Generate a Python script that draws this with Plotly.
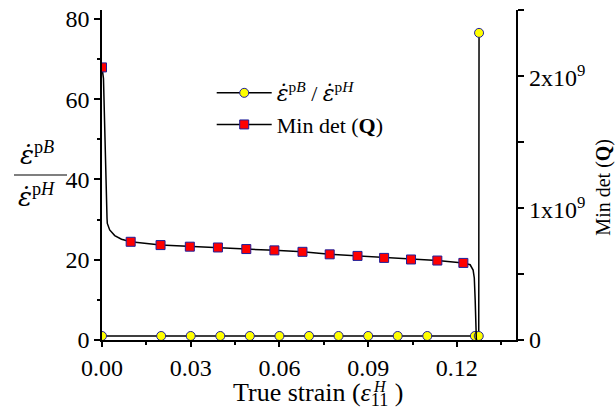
import plotly.graph_objects as go

FONT = "Liberation Serif, Times New Roman, serif"

# ---- data ----
# strain-rate ratio (left axis)
ratio_strain = [0.0, 0.02, 0.03, 0.04, 0.05, 0.06, 0.07, 0.08, 0.09, 0.10, 0.11, 0.1261, 0.1274, 0.1275]
ratio_value = [1.0, 1.0, 1.0, 1.0, 1.0, 1.0, 1.0, 1.0, 1.0, 1.0, 1.0, 1.0, 1.0, 76.5]

# Min det(Q) curve (right axis)
detq_curve_strain = [0.0, 0.0005, 0.0017, 0.0018, 0.0026, 0.0043, 0.0066, 0.0097, 0.0198, 0.0297,
                     0.0392, 0.0488, 0.0583, 0.0678, 0.0770, 0.0864, 0.0954, 0.1045, 0.1134,
                     0.1222, 0.1245, 0.1255, 0.1259, 0.1262, 0.1265, 0.1266]
detq_curve_value = [2.065e9, 1.98e9, 0.92e9, 0.883e9, 0.834e9, 0.791e9, 0.763e9, 0.744e9, 0.719e9,
                    0.707e9, 0.701e9, 0.689e9, 0.679e9, 0.668e9, 0.649e9, 0.637e9, 0.622e9,
                    0.610e9, 0.602e9, 0.584e9, 0.570e9, 0.530e9, 0.470e9, 0.300e9, 0.030e9, 0.0]
# Min det(Q) markers
detq_mark_strain = [0.0, 0.0097, 0.0198, 0.0297, 0.0392, 0.0488, 0.0583, 0.0678, 0.0770, 0.0864,
                    0.0954, 0.1045, 0.1134, 0.1222]
detq_mark_value = [2.065e9, 0.744e9, 0.719e9, 0.707e9, 0.701e9, 0.689e9, 0.679e9, 0.668e9,
                   0.649e9, 0.637e9, 0.622e9, 0.610e9, 0.602e9, 0.584e9]

left_ticks = [0, 20, 40, 60, 80]
right_ticks = [0, 1e9, 2e9]
right_ticktext = ["0", "1x10<sup>9</sup>", "2x10<sup>9</sup>"]

EDGE = "#1f1f9a"
EPSDOT = "<span style='font-family:DejaVu Serif'><i>ε̇</i></span>"
ratio_name = EPSDOT + "<sup>p<i>B</i></sup> / " + EPSDOT + "<sup>p<i>H</i></sup>"
detq_name = "Min det (<b>Q</b>)"

fig = go.Figure()

fig.add_trace(go.Scatter(
    x=detq_curve_strain, y=detq_curve_value, yaxis="y2", mode="lines",
    line=dict(color="black", width=1.5), showlegend=False, hoverinfo="skip"))
fig.add_trace(go.Scatter(
    x=detq_mark_strain, y=detq_mark_value, yaxis="y2", mode="markers",
    marker=dict(symbol="square", size=9, color="#ff0000", line=dict(color=EDGE, width=1)),
    showlegend=False))
fig.add_trace(go.Scatter(
    x=ratio_strain, y=ratio_value, mode="lines+markers", name=ratio_name,
    line=dict(color="black", width=1.5),
    marker=dict(symbol="circle", size=9, color="#ffff00", line=dict(color=EDGE, width=1)),
    legendgroup="a"))
fig.add_trace(go.Scatter(
    x=[None], y=[None], yaxis="y2", mode="lines+markers", name=detq_name,
    line=dict(color="black", width=1.5),
    marker=dict(symbol="square", size=9, color="#ff0000", line=dict(color=EDGE, width=1)),
    legendgroup="b"))

axis_common = dict(showline=True, linecolor="black", linewidth=1.5, ticks="outside",
                   tickcolor="black", tickwidth=1.5, showgrid=False, zeroline=False,
                   tickfont=dict(family=FONT, size=24, color="black"))

fig.update_layout(
    width=615, height=416,
    margin=dict(l=102, r=99, t=6, b=76),
    paper_bgcolor="white", plot_bgcolor="white",
    font=dict(family=FONT, color="black"),
    xaxis=dict(range=[0, 0.14], dtick=0.03, tick0=0, tickformat=".2f", ticklen=5,
               minor=dict(dtick=0.015, tick0=0, ticklen=3, ticks="outside", tickcolor="black", tickwidth=1.5),
               **axis_common),
    xaxis3=dict(range=[0, 0.14], overlaying="x", side="top", anchor="y", showline=True,
                linecolor="black", linewidth=1.5, ticks="inside", ticklen=4, tickcolor="black",
                tickwidth=1.5, dtick=0.03, tick0=0, showticklabels=False, showgrid=False,
                zeroline=False,
                minor=dict(dtick=0.015, tick0=0, ticklen=3, ticks="inside", tickcolor="black", tickwidth=1.5)),
    yaxis=dict(range=[0, 82.2], tickvals=left_ticks, ticklen=6,
               minor=dict(dtick=10, tick0=0, ticklen=3, ticks="outside", tickcolor="black", tickwidth=1.5),
               **axis_common),
    yaxis2=dict(range=[0, 2.5e9], overlaying="y", side="right", anchor="x",
                tickvals=right_ticks, ticklen=6, showticklabels=False,
                minor=dict(tickmode="linear", dtick=5e8, tick0=0, ticklen=6, ticks="outside",
                           tickcolor="black", tickwidth=1.5),
                **axis_common),
    legend=dict(x=0.265, y=0.812, xanchor="left", yanchor="top", bgcolor="rgba(0,0,0,0)",
                font=dict(family=FONT, size=22, color="black"), tracegroupgap=0, itemwidth=55),
    showlegend=True,
)

# right axis tick labels
for val, txt in zip(right_ticks, right_ticktext):
    fig.add_annotation(xref="paper", yref="y2", x=1.0266, y=val, text=txt, showarrow=False,
                       font=dict(family=FONT, size=24, color="black"),
                       xanchor="left", yanchor="middle")

# right axis title
fig.add_annotation(xref="paper", yref="paper", x=1.212, y=0.464, text="Min det (<b>Q</b>)",
                   textangle=-90, showarrow=False, font=dict(family=FONT, size=20, color="black"),
                   xanchor="center", yanchor="middle")

# left axis title drawn as a stacked fraction
fig.add_annotation(xref="paper", yref="paper", x=-0.158, y=0.566,
                   text=EPSDOT + "<sup>p<i>B</i></sup>",
                   showarrow=False, font=dict(family=FONT, size=26, color="black"),
                   xanchor="center", yanchor="middle")
fig.add_annotation(xref="paper", yref="paper", x=-0.158, y=0.438,
                   text=EPSDOT + "<sup>p<i>H</i></sup>",
                   showarrow=False, font=dict(family=FONT, size=26, color="black"),
                   xanchor="center", yanchor="middle")
fig.add_shape(type="line", xref="paper", yref="paper", x0=-0.2126, x1=-0.0845, y0=0.5, y1=0.5,
              line=dict(color="black", width=1.2))

# bottom axis title with stacked sub/superscript
fig.add_annotation(xref="paper", yref="paper", x=0.522, y=-0.109,
                   text="True strain (<i>ε</i><sub>11</sub> )",
                   showarrow=False, font=dict(family=FONT, size=26, color="black"),
                   xanchor="center", yanchor="top")
fig.add_annotation(xref="paper", yref="paper", x=0.671, y=-0.14, text="<i>H</i>",
                   showarrow=False, font=dict(family=FONT, size=16, color="black"),
                   xanchor="center", yanchor="middle")

fig.write_html("out.html", post_script="document.body.style.margin='0';",
               config={"displayModeBar": False})
